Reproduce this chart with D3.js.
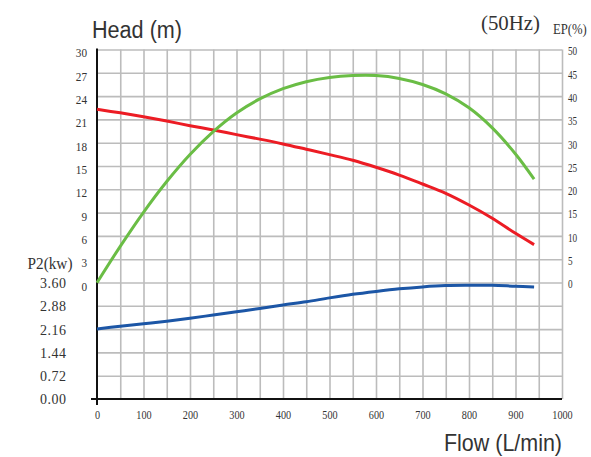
<!DOCTYPE html>
<html><head><meta charset="utf-8">
<script src="https://cdn.jsdelivr.net/npm/d3@7"></script>
<style>body{margin:0;background:#fff}</style>
</head><body><svg id="c" width="591" height="457"></svg>
<script>
// ---- data ----
const flow       = [0, 50, 100, 150, 200, 250, 300, 350, 400, 450, 500, 550, 600, 650, 700, 750, 800, 850, 900, 940];
const head       = [22.3, 21.85, 21.35, 20.8, 20.2, 19.65, 19.05, 18.47, 17.85, 17.17, 16.48, 15.75, 14.85, 13.85, 12.7, 11.5, 10.0, 8.3, 6.35, 4.9];
const efficiency = [0, 7.8, 15.1, 21.7, 27.5, 32.4, 36.4, 39.4, 41.6, 43.1, 44.0, 44.4, 44.4, 43.8, 42.5, 40.5, 37.5, 33.2, 27.6, 22.2];
const power      = [2.17, 2.25, 2.33, 2.41, 2.50, 2.60, 2.70, 2.80, 2.91, 3.01, 3.13, 3.24, 3.33, 3.41, 3.47, 3.51, 3.52, 3.52, 3.49, 3.47];
const flowTicks  = [0, 100, 200, 300, 400, 500, 600, 700, 800, 900, 1000];
const headTicks  = [0, 3, 6, 9, 12, 15, 18, 21, 24, 27, 30];
const powerTicks = [0, 0.72, 1.44, 2.16, 2.88, 3.60];
const epTicks    = [0, 5, 10, 15, 20, 25, 30, 35, 40, 45, 50];

// ---- layout ----
const L = 97, R = 562, T = 49.5, B = 399, H0 = 282.7;
const svg = d3.select("#c");
svg.append("rect").attr("width", 591).attr("height", 457).attr("fill", "#fff");

const x = d3.scaleLinear().domain([0, 1000]).range([L, R]);
const yHead = d3.scaleLinear().domain([0, 30]).range([H0, T]);
const yGrid = d3.scaleLinear().domain([-15, 30]).range([B, T]);
const yPow = d3.scaleLinear().domain([0, 3.6]).range([B, H0]);
const yEP = d3.scaleLinear().domain([0, 50]).range([H0, T]);

const gridColor = "#bcbcbc";
// vertical grid
svg.append("g").attr("transform", `translate(0,${B})`)
  .call(d3.axisBottom(x).tickValues(d3.range(50, 1001, 50)).tickSize(-(B - T)).tickFormat(""))
  .call(g => g.select(".domain").remove())
  .call(g => g.selectAll("line").attr("stroke", gridColor).attr("stroke-width", 1.6));
// horizontal grid
svg.append("g").attr("transform", `translate(${L},0)`)
  .call(d3.axisLeft(yGrid).tickValues(d3.range(-12, 31, 3)).tickSize(-(R - L)).tickFormat(""))
  .call(g => g.select(".domain").remove())
  .call(g => g.selectAll("line").attr("stroke", gridColor).attr("stroke-width", 1.6));

// main axis lines
svg.append("line").attr("x1", L).attr("x2", L).attr("y1", T - 1).attr("y2", B + 6)
  .attr("stroke", "#111").attr("stroke-width", 2);
svg.append("line").attr("x1", L - 6).attr("x2", R).attr("y1", B).attr("y2", B)
  .attr("stroke", "#111").attr("stroke-width", 2);

const serif = "'Liberation Serif', 'DejaVu Serif', serif";
const sans = "'Liberation Sans', Arial, sans-serif";
const textCol = "#333";

function styleTicks(g, size, perChar, dy, spacingOnly) {
  g.select(".domain").remove();
  g.selectAll("line").remove();
  g.selectAll("text")
    .attr("font-family", serif).attr("font-size", size).attr("fill", textCol)
    .attr("dy", dy)
    .attr("textLength", function () { return this.textContent.length * perChar; })
    .attr("lengthAdjust", spacingOnly ? "spacing" : "spacingAndGlyphs");
}

// head axis (left)
svg.append("g").attr("transform", `translate(${L},0)`)
  .call(d3.axisLeft(yHead).tickValues(headTicks).tickSize(0).tickPadding(10).tickFormat(d3.format("d")))
  .call(g => styleTicks(g, 13.5, 5.6, "0.55em"));
// power axis (left, lower)
svg.append("g").attr("transform", `translate(${L},0)`)
  .call(d3.axisLeft(yPow).tickValues(powerTicks).tickSize(0).tickPadding(31).tickFormat(d3.format(".2f")))
  .call(g => styleTicks(g, 14, 6.5, "0.35em", true));
// EP axis (right)
svg.append("g").attr("transform", `translate(${R},0)`)
  .call(d3.axisRight(yEP).tickValues(epTicks).tickSize(0).tickPadding(6).tickFormat(d3.format("d")))
  .call(g => styleTicks(g, 12.5, 4.6, "0.42em"));
// flow axis (bottom)
svg.append("g").attr("transform", `translate(0,${B})`)
  .call(d3.axisBottom(x).tickValues(flowTicks).tickSize(0).tickPadding(11).tickFormat(d3.format("d")))
  .call(g => styleTicks(g, 13, 5.1, "0.71em"));

// curves
const pts = arr => flow.map((f, i) => [f, arr[i]]);
function curve(arr, yScale, color) {
  svg.append("path").datum(pts(arr))
    .attr("d", d3.line().x(d => x(d[0])).y(d => yScale(d[1])).curve(d3.curveCatmullRom.alpha(0.5)))
    .attr("fill", "none").attr("stroke", color).attr("stroke-width", 3)
    .attr("stroke-linecap", "butt");
}
curve(power, yPow, "#1c56a6");
curve(head, yHead, "#ec1c24");
curve(efficiency, yEP, "#6abd45");

// titles
svg.append("text").attr("x", 92).attr("y", 37.5).text("Head (m)")
  .attr("font-family", sans).attr("font-size", 23.5).attr("fill", textCol)
  .attr("textLength", 90).attr("lengthAdjust", "spacingAndGlyphs");
svg.append("text").attr("x", 444).attr("y", 450.5).text("Flow (L/min)")
  .attr("font-family", sans).attr("font-size", 24.5).attr("fill", textCol)
  .attr("textLength", 118).attr("lengthAdjust", "spacingAndGlyphs");
svg.append("text").attr("x", 481).attr("y", 29.5).text("(50Hz)")
  .attr("font-family", serif).attr("font-size", 20.5).attr("fill", textCol)
  .attr("textLength", 59).attr("lengthAdjust", "spacingAndGlyphs");
svg.append("text").attr("transform", "translate(553,34) scale(0.82,1)").text("EP(%)")
  .attr("font-family", serif).attr("font-size", 15.5).attr("fill", textCol);
svg.append("text").attr("x", 27.5).attr("y", 268.5).text("P2(kw)")
  .attr("font-family", serif).attr("font-size", 16.5).attr("fill", textCol)
  .attr("textLength", 45).attr("lengthAdjust", "spacingAndGlyphs");
</script></body></html>
